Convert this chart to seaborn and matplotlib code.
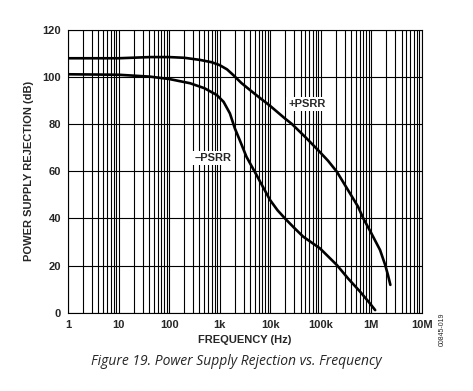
import seaborn as sns
import matplotlib.pyplot as plt
import matplotlib.ticker as mticker
import pandas as pd

# values
pos_freq = [1, 10, 42, 100, 200, 410, 700, 1000, 1400, 1860, 2700, 4000,
            6000, 10000, 20000, 27000, 50000, 89000, 140000, 210000,
            380000, 550000, 700000, 970000, 1500000, 1900000, 2150000, 2400000]
pos_db = [108, 108, 108.5, 108.5, 108.2, 107.3, 106.3, 105.1, 103.3, 100.9,
          97.5, 94.5, 91.5, 87.8, 82.3, 80.1, 74.5, 69, 64.5, 59.8,
          50.7, 45, 40, 34.4, 26.6, 20.2, 16, 11.8]

neg_freq = [1, 10, 42, 100, 260, 500, 880, 1200, 1600, 2000, 2500, 3400,
            5400, 6300, 10000, 14000, 19700, 30000, 45000, 97000, 210000,
            350000, 600000, 900000, 1200000]
neg_db = [101.2, 101, 100.2, 99.2, 97.4, 95.3, 92.4, 89.5, 84.6, 78.3, 73.3, 66.2,
          58.4, 55.7, 47.8, 43.5, 40, 36, 32.3, 27.3, 20.2,
          14.5, 9.0, 4.5, 1.1]

x_ticks = [1, 10, 100, 1e3, 1e4, 1e5, 1e6, 1e7]
x_labels = ["1", "10", "100", "1k", "10k", "100k", "1M", "10M"]
y_ticks = [0, 20, 40, 60, 80, 100, 120]

df = pd.concat([
    pd.DataFrame({"freq": pos_freq, "db": pos_db, "series": "+PSRR"}),
    pd.DataFrame({"freq": neg_freq, "db": neg_db, "series": "\u2013PSRR"}),
])

sns.set_style("white")
plt.rcParams["font.family"] = ["Liberation Sans", "DejaVu Sans"]

fig = plt.figure(figsize=(4.73, 3.91), dpi=100)
ax = fig.add_axes([0.1438, 0.2003, 0.7477, 0.7230])

sns.lineplot(data=df, x="freq", y="db", units="series", estimator=None,
             color="black", linewidth=1.9, sort=False, ax=ax, zorder=3)
for ln in ax.get_lines():
    ln.set_solid_joinstyle("round")
    ln.set_solid_capstyle("round")

ax.set_xscale("log")
ax.set_xlim(1, 1e7)
ax.set_ylim(0, 120)
ax.xaxis.set_minor_locator(mticker.LogLocator(base=10, subs=range(2, 10), numticks=20))
ax.xaxis.set_minor_formatter(mticker.NullFormatter())
ax.set_xticks(x_ticks)
ax.set_xticklabels(x_labels, fontsize=8, fontweight="bold")
ax.set_yticks(y_ticks)
ax.set_yticklabels([str(v) for v in y_ticks], fontsize=8, fontweight="bold")
ax.tick_params(which="both", length=0, pad=5)

ax.grid(True, which="both", axis="x", color="black", linewidth=0.8)
ax.grid(True, which="major", axis="y", color="black", linewidth=0.8)
for s in ax.spines.values():
    s.set_color("black")
    s.set_linewidth(0.8)

ax.set_xlabel("FREQUENCY (Hz)", fontsize=8, fontweight="bold", labelpad=4)
ax.set_ylabel("POWER SUPPLY REJECTION (dB)", fontsize=8, fontweight="bold", labelpad=6)

box = dict(facecolor="white", edgecolor="none", pad=1.5)
ax.text(5.4e4, 88.6, "+PSRR", fontsize=8, fontweight="bold", ha="center",
        va="center", bbox=box, zorder=4)
ax.text(1.7e3, 65.5, "\u2013PSRR", fontsize=8, fontweight="bold", ha="right",
        va="center", bbox=box, zorder=4)

fig.text(0.50, 0.075, "Figure 19. Power Supply Rejection vs. Frequency",
         fontsize=10, style="italic", ha="center", va="center",
         family=["Open Sans", "DejaVu Sans"])
fig.text(0.934, 0.157, "00845-019", fontsize=5, rotation=90,
         ha="center", va="center")

fig.savefig("out.png", dpi=100)
